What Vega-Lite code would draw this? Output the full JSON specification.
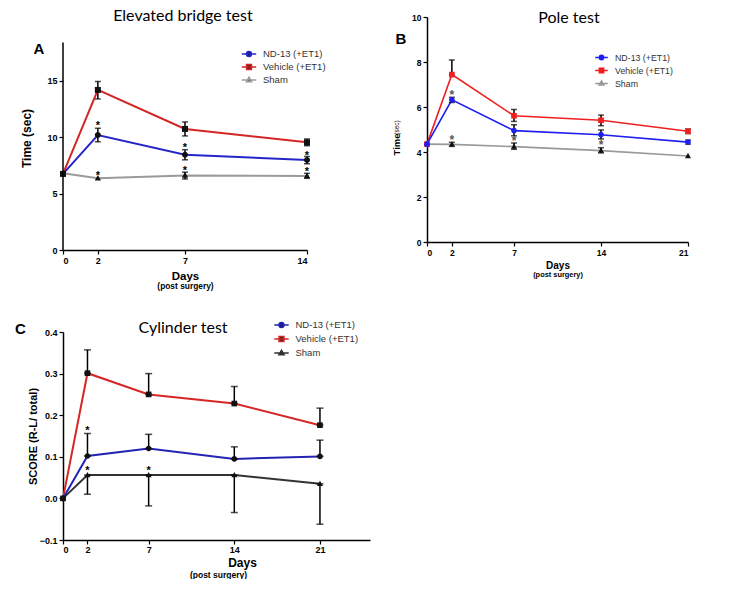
{
  "$schema": "https://vega.github.io/schema/vega-lite/v6.json",
  "padding": {"left": 15, "top": 8, "right": 0, "bottom": 0},
  "background": "white",
  "config": {
    "font": "Liberation Sans",
    "view": {"stroke": null},
    "axis": {"grid": false, "domainColor": "black", "domainWidth": 1.5, "tickColor": "black", "tickWidth": 1.2, "tickSize": 4, "labelFont": "Liberation Sans", "labelFontWeight": "bold", "labelFontSize": 9, "labelColor": "black", "labelPadding": 2, "titleFont": "Liberation Sans", "titleFontWeight": "bold", "titleColor": "black", "titleBaseline": "alphabetic"},
    "legend": {"labelFont": "Liberation Sans", "labelColor": "#333", "labelFontSize": 9.5, "padding": 0, "labelOffset": 7, "symbolSize": 144, "rowPadding": 0, "symbolStrokeColor": "#000", "symbolFillColor": "#111", "symbolStrokeWidth": 1.6}
  },
  "datasets": {
    "A": [
      {"day": 0, "series": "Sham", "mean": 6.8, "lo": null, "hi": null},
      {"day": 2, "series": "Sham", "mean": 6.36, "lo": null, "hi": null},
      {"day": 7, "series": "Sham", "mean": 6.62, "lo": 6.3, "hi": 6.9},
      {"day": 14, "series": "Sham", "mean": 6.57, "lo": 6.36, "hi": 6.8},
      {"day": 0, "series": "Vehicle (+ET1)", "mean": 6.75, "lo": null, "hi": null},
      {"day": 2, "series": "Vehicle (+ET1)", "mean": 14.2, "lo": 13.4, "hi": 14.95},
      {"day": 7, "series": "Vehicle (+ET1)", "mean": 10.74, "lo": 10.12, "hi": 11.36},
      {"day": 14, "series": "Vehicle (+ET1)", "mean": 9.55, "lo": 9.25, "hi": 9.85},
      {"day": 0, "series": "ND-13 (+ET1)", "mean": 6.75, "lo": null, "hi": null},
      {"day": 2, "series": "ND-13 (+ET1)", "mean": 10.2, "lo": 9.6, "hi": 10.8},
      {"day": 7, "series": "ND-13 (+ET1)", "mean": 8.45, "lo": 8.0, "hi": 8.9},
      {"day": 14, "series": "ND-13 (+ET1)", "mean": 7.98, "lo": 7.65, "hi": 8.3}
    ],
    "B": [
      {"day": 0, "series": "Sham", "mean": 4.35, "lo": null, "hi": null},
      {"day": 2, "series": "Sham", "mean": 4.34, "lo": 4.25, "hi": 4.43},
      {"day": 7, "series": "Sham", "mean": 4.24, "lo": 4.12, "hi": 4.4},
      {"day": 14, "series": "Sham", "mean": 4.06, "lo": 3.96, "hi": 4.19},
      {"day": 21, "series": "Sham", "mean": 3.82, "lo": null, "hi": null},
      {"day": 0, "series": "Vehicle (+ET1)", "mean": 4.35, "lo": null, "hi": null},
      {"day": 2, "series": "Vehicle (+ET1)", "mean": 7.44, "lo": 7.44, "hi": 8.09},
      {"day": 7, "series": "Vehicle (+ET1)", "mean": 5.61, "lo": 5.36, "hi": 5.89},
      {"day": 14, "series": "Vehicle (+ET1)", "mean": 5.41, "lo": 5.17, "hi": 5.64},
      {"day": 21, "series": "Vehicle (+ET1)", "mean": 4.92, "lo": 4.82, "hi": 5.02},
      {"day": 0, "series": "ND-13 (+ET1)", "mean": 4.35, "lo": null, "hi": null},
      {"day": 2, "series": "ND-13 (+ET1)", "mean": 6.32, "lo": 6.2, "hi": 6.43},
      {"day": 7, "series": "ND-13 (+ET1)", "mean": 4.95, "lo": 4.72, "hi": 5.21},
      {"day": 14, "series": "ND-13 (+ET1)", "mean": 4.77, "lo": 4.58, "hi": 4.98},
      {"day": 21, "series": "ND-13 (+ET1)", "mean": 4.44, "lo": 4.35, "hi": 4.53}
    ],
    "C": [
      {"day": 0, "series": "Sham", "mean": 0.0, "lo": null, "hi": null},
      {"day": 2, "series": "Sham", "mean": 0.056, "lo": 0.01, "hi": 0.056},
      {"day": 7, "series": "Sham", "mean": 0.056, "lo": -0.018, "hi": 0.056},
      {"day": 14, "series": "Sham", "mean": 0.056, "lo": -0.034, "hi": 0.056},
      {"day": 21, "series": "Sham", "mean": 0.035, "lo": -0.062, "hi": 0.035},
      {"day": 0, "series": "Vehicle (+ET1)", "mean": 0.0, "lo": null, "hi": null},
      {"day": 2, "series": "Vehicle (+ET1)", "mean": 0.301, "lo": 0.301, "hi": 0.357},
      {"day": 7, "series": "Vehicle (+ET1)", "mean": 0.25, "lo": 0.25, "hi": 0.3},
      {"day": 14, "series": "Vehicle (+ET1)", "mean": 0.228, "lo": 0.228, "hi": 0.269},
      {"day": 21, "series": "Vehicle (+ET1)", "mean": 0.176, "lo": 0.176, "hi": 0.217},
      {"day": 0, "series": "ND-13 (+ET1)", "mean": 0.0, "lo": null, "hi": null},
      {"day": 2, "series": "ND-13 (+ET1)", "mean": 0.102, "lo": 0.102, "hi": 0.156},
      {"day": 7, "series": "ND-13 (+ET1)", "mean": 0.12, "lo": 0.12, "hi": 0.154},
      {"day": 14, "series": "ND-13 (+ET1)", "mean": 0.095, "lo": 0.095, "hi": 0.124},
      {"day": 21, "series": "ND-13 (+ET1)", "mean": 0.101, "lo": 0.101, "hi": 0.14}
    ],
    "starsA": [{"day": 2, "y": 11.3}, {"day": 7, "y": 9.3}, {"day": 14, "y": 8.63}, {"day": 2, "y": 6.86}, {"day": 7, "y": 7.3}, {"day": 14, "y": 7.16}],
    "starsB": [{"day": 2, "y": 6.68}, {"day": 2, "y": 4.68}, {"day": 7, "y": 4.61}, {"day": 14, "y": 4.46}],
    "starsC": [{"day": 2, "y": 0.17}, {"day": 2, "y": 0.074}, {"day": 7, "y": 0.074}]
  },
  "columns": 2,
  "bounds": "flush",
  "align": "none",
  "spacing": {"row": 82, "column": 57},
  "resolve": {"scale": {"x": "independent", "y": "independent", "color": "independent", "shape": "independent", "fill": "independent", "stroke": "independent"}, "legend": {"color": "independent", "shape": "independent", "fill": "independent", "stroke": "independent"}, "axis": {"x": "independent", "y": "independent"}},
  "concat": [
    {
      "width": 244,
      "height": 233,
      "resolve": {"axis": {"x": "independent", "y": "independent"}},
      "layer": [
        {
          "data": {"name": "A"},
          "mark": {"type": "line", "strokeWidth": 2},
          "encoding": {
            "x": {"field": "day", "type": "quantitative", "scale": {"domain": [0, 14], "nice": false, "zero": false}, "axis": {"orient": "bottom", "values": [0, 2, 7, 14], "title": "Days", "titleFontSize": 11.5, "titleY": 29}},
            "y": {"field": "mean", "type": "quantitative", "scale": {"domain": [0, 20.67], "nice": false}, "axis": {"orient": "left", "values": [0, 5, 10, 15], "domain": false, "title": "Time (sec)", "titleFontSize": 12, "titleX": -37, "titleY": 121, "titleBaseline": "middle"}},
            "color": {"field": "series", "type": "nominal", "scale": {"range": ["#2626c8", "#9a9a9a", "#d42626"]}, "legend": null}
          }
        },
        {
          "data": {"name": "A"},
          "transform": [{"filter": "isValid(datum.lo)"}],
          "mark": {"type": "errorbar", "ticks": {"size": 6, "thickness": 1.5}, "color": "black", "thickness": 1.5},
          "encoding": {
            "x": {"field": "day", "type": "quantitative", "axis": null},
            "y": {"field": "lo", "type": "quantitative", "axis": null},
            "y2": {"field": "hi"}
          }
        },
        {
          "data": {"name": "A"},
          "transform": [{"filter": "datum.series == 'Sham'"}],
          "mark": {"type": "point", "filled": true, "size": 225, "opacity": 1, "strokeWidth": 0, "color": "#111", "shape": "M0,-0.45L0.42,0.3H-0.42Z"},
          "encoding": {"x": {"field": "day", "type": "quantitative", "axis": null}, "y": {"field": "mean", "type": "quantitative", "axis": null}}
        },
        {
          "data": {"name": "A"},
          "transform": [{"filter": "datum.series == 'Vehicle (+ET1)'"}],
          "mark": {"type": "point", "filled": true, "size": 225, "opacity": 1, "strokeWidth": 0, "color": "#111", "shape": "M-0.4,-0.4H0.4V0.4H-0.4Z"},
          "encoding": {"x": {"field": "day", "type": "quantitative", "axis": null}, "y": {"field": "mean", "type": "quantitative", "axis": null}}
        },
        {
          "data": {"name": "A"},
          "transform": [{"filter": "datum.series == 'ND-13 (+ET1)'"}],
          "mark": {"type": "point", "filled": true, "size": 225, "opacity": 1, "strokeWidth": 0, "color": "#111", "shape": "M0.4,0A0.4,0.4,0,1,1,-0.4,0A0.4,0.4,0,1,1,0.4,0Z"},
          "encoding": {"x": {"field": "day", "type": "quantitative", "axis": null}, "y": {"field": "mean", "type": "quantitative", "axis": null}}
        },
        {
          "data": {"name": "A"},
          "transform": [{"filter": "false"}],
          "mark": {"type": "point", "filled": true, "size": 144, "opacity": 1, "strokeWidth": 1.6, "color": "#111"},
          "encoding": {
            "x": {"field": "day", "type": "quantitative", "axis": null},
            "y": {"field": "mean", "type": "quantitative", "axis": null},
            "shape": {"field": "series", "type": "nominal",
              "scale": {"domain": ["ND-13 (+ET1)", "Vehicle (+ET1)", "Sham"], "range": ["M-1.2,0H1.2M0.4,0A0.4,0.4,0,1,1,-0.4,0A0.4,0.4,0,1,1,0.4,0Z", "M-1.2,0H1.2M-0.4,-0.4H0.4V0.4H-0.4Z", "M-1.2,0H1.2M0,-0.45L0.42,0.3H-0.42Z"]},
              "legend": {"title": null, "orient": "none", "legendX": 179, "legendY": 30, "labelFontSize": 9.5}},
            "stroke": {"field": "series", "type": "nominal",
              "scale": {"domain": ["ND-13 (+ET1)", "Vehicle (+ET1)", "Sham"], "range": ["#2626c8", "#d42626", "#9a9a9a"]},
              "legend": {"title": null, "orient": "none", "legendX": 179, "legendY": 30, "labelFontSize": 9.5}}
          }
        },
        {
          "data": {"name": "starsA"},
          "mark": {"type": "text", "text": "*", "fontSize": 11, "fontWeight": "bold", "dy": 6, "baseline": "alphabetic", "color": "black"},
          "encoding": {
            "x": {"field": "day", "type": "quantitative", "axis": {"orient": "bottom", "title": "(post surgery)", "labels": false, "ticks": false, "domain": false, "titleFontSize": 8.4, "titleY": 38}},
            "y": {"field": "y", "type": "quantitative", "axis": null}
          }
        },
        {
          "data": {"values": [{}]},
          "mark": {"type": "text", "text": "A", "fontSize": 15, "fontWeight": "bold", "baseline": "alphabetic", "align": "center", "color": "black"},
          "encoding": {"x": {"datum": -1.38, "type": "quantitative", "axis": null}, "y": {"datum": 17.4, "type": "quantitative", "axis": null}}
        },
        {
          "data": {"values": [{}]},
          "mark": {"type": "text", "text": "Elevated bridge test", "font": "Lato", "fontSize": 16, "baseline": "alphabetic", "align": "center", "color": "black"},
          "encoding": {"x": {"datum": 6.88, "type": "quantitative", "axis": null}, "y": {"datum": 20.28, "type": "quantitative", "axis": null}}
        },
        {
          "data": {"values": [{}]},
          "mark": {"type": "rule", "color": "black", "strokeWidth": 1.5},
          "encoding": {"x": {"datum": 0, "type": "quantitative", "axis": null}, "y": {"datum": 0, "type": "quantitative", "axis": null}, "y2": {"datum": 18.4}}
        }
      ]
    },
    {
      "width": 261,
      "height": 225,
      "resolve": {"axis": {"x": "independent", "y": "independent"}},
      "layer": [
        {
          "data": {"name": "B"},
          "mark": {"type": "line", "strokeWidth": 1.6},
          "encoding": {
            "x": {"field": "day", "type": "quantitative", "scale": {"domain": [0, 21], "nice": false, "zero": false}, "axis": {"orient": "bottom", "values": [0, 2, 7, 14, 21], "title": "Days", "titleFontSize": 10, "titleY": 26, "labelFontSize": 8.5}},
            "y": {"field": "mean", "type": "quantitative", "scale": {"domain": [0, 10], "nice": false}, "axis": {"orient": "left", "values": [0, 2, 4, 6, 8, 10], "title": "Time", "titleFontSize": 9.5, "titleX": -31, "titleY": 127, "titleBaseline": "middle", "labelFontSize": 8.5}},
            "color": {"field": "series", "type": "nominal", "scale": {"range": ["#1f1ff0", "#999999", "#f01f1f"]}, "legend": null}
          }
        },
        {
          "data": {"name": "B"},
          "transform": [{"filter": "isValid(datum.lo)"}],
          "mark": {"type": "errorbar", "ticks": {"size": 6, "thickness": 1.5}, "color": "black", "thickness": 1.5},
          "encoding": {
            "x": {"field": "day", "type": "quantitative", "axis": null},
            "y": {"field": "lo", "type": "quantitative", "axis": null},
            "y2": {"field": "hi"}
          }
        },
        {
          "data": {"name": "B"},
          "transform": [{"filter": "datum.series == 'Sham'"}],
          "mark": {"type": "point", "filled": true, "size": 200, "opacity": 1, "strokeWidth": 0, "color": "#111111", "shape": "M0,-0.45L0.42,0.3H-0.42Z"},
          "encoding": {"x": {"field": "day", "type": "quantitative", "axis": null}, "y": {"field": "mean", "type": "quantitative", "axis": null}}
        },
        {
          "data": {"name": "B"},
          "transform": [{"filter": "datum.series == 'Vehicle (+ET1)'"}],
          "mark": {"type": "point", "filled": true, "size": 200, "opacity": 1, "strokeWidth": 0, "color": "#f01f1f", "shape": "M-0.4,-0.4H0.4V0.4H-0.4Z"},
          "encoding": {"x": {"field": "day", "type": "quantitative", "axis": null}, "y": {"field": "mean", "type": "quantitative", "axis": null}}
        },
        {
          "data": {"name": "B"},
          "transform": [{"filter": "datum.series == 'ND-13 (+ET1)'"}],
          "mark": {"type": "point", "filled": true, "size": 200, "opacity": 1, "strokeWidth": 0, "color": "#1f1ff0", "shape": "M0.4,0A0.4,0.4,0,1,1,-0.4,0A0.4,0.4,0,1,1,0.4,0Z"},
          "encoding": {"x": {"field": "day", "type": "quantitative", "axis": null}, "y": {"field": "mean", "type": "quantitative", "axis": null}}
        },
        {
          "data": {"name": "B"},
          "transform": [{"filter": "false"}],
          "mark": {"type": "point", "filled": true, "size": 110, "opacity": 1, "strokeWidth": 1.6},
          "encoding": {
            "x": {"field": "day", "type": "quantitative", "axis": null},
            "y": {"field": "mean", "type": "quantitative", "axis": null},
            "fill": {"field": "series", "type": "nominal",
              "scale": {"domain": ["ND-13 (+ET1)", "Vehicle (+ET1)", "Sham"], "range": ["#1f1ff0", "#f01f1f", "#111111"]},
              "legend": {"title": null, "orient": "none", "legendX": 168, "legendY": 34, "labelFontSize": 8.8, "symbolSize": 110, "rowPadding": 1}},
            "shape": {"field": "series", "type": "nominal",
              "scale": {"domain": ["ND-13 (+ET1)", "Vehicle (+ET1)", "Sham"], "range": ["M-1.2,0H1.2M0.4,0A0.4,0.4,0,1,1,-0.4,0A0.4,0.4,0,1,1,0.4,0Z", "M-1.2,0H1.2M-0.4,-0.4H0.4V0.4H-0.4Z", "M-1.2,0H1.2M0,-0.45L0.42,0.3H-0.42Z"]},
              "legend": {"title": null, "orient": "none", "legendX": 168, "legendY": 34, "labelFontSize": 8.8, "symbolSize": 110, "rowPadding": 1}},
            "stroke": {"field": "series", "type": "nominal",
              "scale": {"domain": ["ND-13 (+ET1)", "Vehicle (+ET1)", "Sham"], "range": ["#1f1ff0", "#f01f1f", "#999999"]},
              "legend": {"title": null, "orient": "none", "legendX": 168, "legendY": 34, "labelFontSize": 8.8, "symbolSize": 110, "rowPadding": 1}}
          }
        },
        {
          "data": {"name": "starsB"},
          "mark": {"type": "text", "text": "*", "fontSize": 12, "fontWeight": "bold", "dy": 7, "baseline": "alphabetic", "color": "#555"},
          "encoding": {
            "x": {"field": "day", "type": "quantitative", "axis": {"orient": "bottom", "title": "(post surgery)", "labels": false, "ticks": false, "domain": false, "titleFontSize": 7.4, "titleY": 34}},
            "y": {"field": "y", "type": "quantitative", "axis": {"orient": "left", "title": "(sec)", "labels": false, "ticks": false, "domain": false, "titleFontSize": 6.5, "titleFontWeight": "normal", "titleX": -31, "titleY": 110, "titleBaseline": "middle"}}
          }
        },
        {
          "data": {"values": [{}]},
          "mark": {"type": "text", "text": "B", "fontSize": 15, "fontWeight": "bold", "baseline": "alphabetic", "align": "center", "color": "black"},
          "encoding": {"x": {"datum": -2.09, "type": "quantitative", "axis": null}, "y": {"datum": 8.79, "type": "quantitative", "axis": null}}
        },
        {
          "data": {"values": [{}]},
          "mark": {"type": "text", "text": "Pole test", "font": "Lato", "fontSize": 16, "baseline": "alphabetic", "align": "center", "color": "black"},
          "encoding": {"x": {"datum": 11.42, "type": "quantitative", "axis": null}, "y": {"datum": 9.73, "type": "quantitative", "axis": null}}
        }
      ]
    },
    {
      "width": 307,
      "height": 208,
      "resolve": {"axis": {"x": "independent", "y": "independent"}},
      "layer": [
        {
          "data": {"name": "C"},
          "mark": {"type": "line", "strokeWidth": 2},
          "encoding": {
            "x": {"field": "day", "type": "quantitative", "scale": {"domain": [0, 25.09], "nice": false, "zero": false}, "axis": {"orient": "bottom", "values": [0, 2, 7, 14, 21], "title": "Days", "titleFontSize": 12, "titleY": 26, "titleX": 179, "labelPadding": 1}},
            "y": {"field": "mean", "type": "quantitative", "scale": {"domain": [-0.1, 0.4], "nice": false, "zero": false}, "axis": {"orient": "left", "values": [-0.1, 0, 0.1, 0.2, 0.3, 0.4], "format": ".1f", "title": "SCORE (R-L/ total)", "titleFontSize": 11, "titleX": -30, "titleY": 104, "titleBaseline": "middle"}},
            "color": {"field": "series", "type": "nominal", "scale": {"range": ["#2323b4", "#333333", "#d62626"]}, "legend": null}
          }
        },
        {
          "data": {"name": "C"},
          "transform": [{"filter": "isValid(datum.lo)"}],
          "mark": {"type": "errorbar", "ticks": {"size": 7, "thickness": 1.5}, "color": "black", "thickness": 1.5},
          "encoding": {
            "x": {"field": "day", "type": "quantitative", "axis": null},
            "y": {"field": "lo", "type": "quantitative", "axis": null},
            "y2": {"field": "hi"}
          }
        },
        {
          "data": {"name": "C"},
          "transform": [{"filter": "datum.series == 'Sham'"}],
          "mark": {"type": "point", "filled": true, "size": 200, "opacity": 1, "strokeWidth": 0, "color": "#111", "shape": "M0,-0.45L0.42,0.3H-0.42Z"},
          "encoding": {"x": {"field": "day", "type": "quantitative", "axis": null}, "y": {"field": "mean", "type": "quantitative", "axis": null}}
        },
        {
          "data": {"name": "C"},
          "transform": [{"filter": "datum.series == 'Vehicle (+ET1)'"}],
          "mark": {"type": "point", "filled": true, "size": 200, "opacity": 1, "strokeWidth": 0, "color": "#111", "shape": "M-0.4,-0.4H0.4V0.4H-0.4Z"},
          "encoding": {"x": {"field": "day", "type": "quantitative", "axis": null}, "y": {"field": "mean", "type": "quantitative", "axis": null}}
        },
        {
          "data": {"name": "C"},
          "transform": [{"filter": "datum.series == 'ND-13 (+ET1)'"}],
          "mark": {"type": "point", "filled": true, "size": 200, "opacity": 1, "strokeWidth": 0, "color": "#111", "shape": "M0.4,0A0.4,0.4,0,1,1,-0.4,0A0.4,0.4,0,1,1,0.4,0Z"},
          "encoding": {"x": {"field": "day", "type": "quantitative", "axis": null}, "y": {"field": "mean", "type": "quantitative", "axis": null}}
        },
        {
          "data": {"name": "C"},
          "transform": [{"filter": "false"}],
          "mark": {"type": "point", "filled": true, "size": 144, "opacity": 1, "strokeWidth": 1.6, "color": "#111"},
          "encoding": {
            "x": {"field": "day", "type": "quantitative", "axis": null},
            "y": {"field": "mean", "type": "quantitative", "axis": null},
            "shape": {"field": "series", "type": "nominal",
              "scale": {"domain": ["ND-13 (+ET1)", "Vehicle (+ET1)", "Sham"], "range": ["M-1.2,0H1.2M0.4,0A0.4,0.4,0,1,1,-0.4,0A0.4,0.4,0,1,1,0.4,0Z", "M-1.2,0H1.2M-0.4,-0.4H0.4V0.4H-0.4Z", "M-1.2,0H1.2M0,-0.45L0.42,0.3H-0.42Z"]},
              "legend": {"title": null, "orient": "none", "legendX": 211.5, "legendY": -14, "labelFontSize": 9.5, "rowPadding": 1}},
            "stroke": {"field": "series", "type": "nominal",
              "scale": {"domain": ["ND-13 (+ET1)", "Vehicle (+ET1)", "Sham"], "range": ["#2323b4", "#d62626", "#333333"]},
              "legend": {"title": null, "orient": "none", "legendX": 211.5, "legendY": -14, "labelFontSize": 9.5, "rowPadding": 1}}
          }
        },
        {
          "data": {"name": "starsC"},
          "mark": {"type": "text", "text": "*", "fontSize": 11, "fontWeight": "bold", "dy": 6, "baseline": "alphabetic", "color": "black"},
          "encoding": {
            "x": {"field": "day", "type": "quantitative", "axis": {"orient": "bottom", "title": "(post surgery)", "labels": false, "ticks": false, "domain": false, "titleFontSize": 8.5, "titleY": 37, "titleX": 155}},
            "y": {"field": "y", "type": "quantitative", "axis": null}
          }
        },
        {
          "data": {"values": [{}]},
          "mark": {"type": "text", "text": "C", "fontSize": 15, "fontWeight": "bold", "baseline": "alphabetic", "align": "center", "color": "black"},
          "encoding": {"x": {"datum": -3.47, "type": "quantitative", "axis": null}, "y": {"datum": 0.395, "type": "quantitative", "axis": null}}
        },
        {
          "data": {"values": [{}]},
          "mark": {"type": "text", "text": "Cylinder test", "font": "Lato", "fontSize": 16, "baseline": "alphabetic", "align": "center", "color": "black"},
          "encoding": {"x": {"datum": 9.81, "type": "quantitative", "axis": null}, "y": {"datum": 0.3969, "type": "quantitative", "axis": null}}
        }
      ]
    }
  ]
}
